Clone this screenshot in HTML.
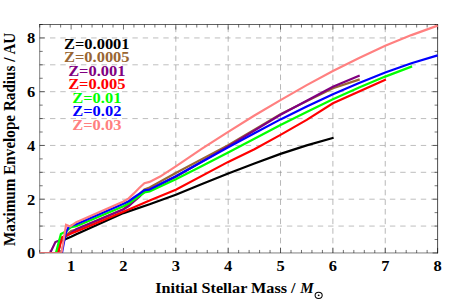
<!DOCTYPE html><html><head><meta charset="utf-8"><style>
html,body{margin:0;padding:0;background:#fff;}svg{display:block}body{font-family:"Liberation Serif",serif}
</style></head><body>
<svg width="463" height="300" viewBox="0 0 463 300">
<rect width="463" height="300" fill="#fff"/>
<path d="M175.82 252.95 V24.5 M228.18 252.95 V24.5 M280.53 252.95 V24.5 M332.89 252.95 V24.5 M385.24 252.95 V24.5" stroke="#a0a0a0" stroke-width="0.75" stroke-dasharray="5.6 4" fill="none"/>
<path d="M39.7 226.07 H437.6 M39.7 199.20 H437.6 M39.7 172.32 H437.6 M39.7 145.44 H437.6 M39.7 118.57 H437.6 M39.7 91.69 H437.6 M39.7 64.81 H437.6 M39.7 37.94 H437.6" stroke="#888" stroke-width="0.55" stroke-dasharray="5.4 4.9" fill="none"/>
<path d="M39.70 252.95 v-3.0 M39.70 24.5 v3.0 M50.17 252.95 v-3.0 M50.17 24.5 v3.0 M60.64 252.95 v-3.0 M60.64 24.5 v3.0 M71.11 252.95 v-5.0 M71.11 24.5 v5.0 M81.58 252.95 v-3.0 M81.58 24.5 v3.0 M92.06 252.95 v-3.0 M92.06 24.5 v3.0 M102.53 252.95 v-3.0 M102.53 24.5 v3.0 M113.00 252.95 v-3.0 M113.00 24.5 v3.0 M123.47 252.95 v-5.0 M123.47 24.5 v5.0 M133.94 252.95 v-3.0 M133.94 24.5 v3.0 M144.41 252.95 v-3.0 M144.41 24.5 v3.0 M154.88 252.95 v-3.0 M154.88 24.5 v3.0 M165.35 252.95 v-3.0 M165.35 24.5 v3.0 M175.82 252.95 v-5.0 M175.82 24.5 v5.0 M186.29 252.95 v-3.0 M186.29 24.5 v3.0 M196.77 252.95 v-3.0 M196.77 24.5 v3.0 M207.24 252.95 v-3.0 M207.24 24.5 v3.0 M217.71 252.95 v-3.0 M217.71 24.5 v3.0 M228.18 252.95 v-5.0 M228.18 24.5 v5.0 M238.65 252.95 v-3.0 M238.65 24.5 v3.0 M249.12 252.95 v-3.0 M249.12 24.5 v3.0 M259.59 252.95 v-3.0 M259.59 24.5 v3.0 M270.06 252.95 v-3.0 M270.06 24.5 v3.0 M280.53 252.95 v-5.0 M280.53 24.5 v5.0 M291.01 252.95 v-3.0 M291.01 24.5 v3.0 M301.48 252.95 v-3.0 M301.48 24.5 v3.0 M311.95 252.95 v-3.0 M311.95 24.5 v3.0 M322.42 252.95 v-3.0 M322.42 24.5 v3.0 M332.89 252.95 v-5.0 M332.89 24.5 v5.0 M343.36 252.95 v-3.0 M343.36 24.5 v3.0 M353.83 252.95 v-3.0 M353.83 24.5 v3.0 M364.30 252.95 v-3.0 M364.30 24.5 v3.0 M374.77 252.95 v-3.0 M374.77 24.5 v3.0 M385.24 252.95 v-5.0 M385.24 24.5 v5.0 M395.72 252.95 v-3.0 M395.72 24.5 v3.0 M406.19 252.95 v-3.0 M406.19 24.5 v3.0 M416.66 252.95 v-3.0 M416.66 24.5 v3.0 M427.13 252.95 v-3.0 M427.13 24.5 v3.0 M437.60 252.95 v-5.0 M437.60 24.5 v5.0" stroke="#000" stroke-width="0.56" fill="none"/>
<path d="M39.7 252.95 h5.0 M437.6 252.95 h-5.0 M39.7 239.51 h3.0 M437.6 239.51 h-3.0 M39.7 226.07 h3.0 M437.6 226.07 h-3.0 M39.7 212.64 h3.0 M437.6 212.64 h-3.0 M39.7 199.20 h5.0 M437.6 199.20 h-5.0 M39.7 185.76 h3.0 M437.6 185.76 h-3.0 M39.7 172.32 h3.0 M437.6 172.32 h-3.0 M39.7 158.88 h3.0 M437.6 158.88 h-3.0 M39.7 145.44 h5.0 M437.6 145.44 h-5.0 M39.7 132.01 h3.0 M437.6 132.01 h-3.0 M39.7 118.57 h3.0 M437.6 118.57 h-3.0 M39.7 105.13 h3.0 M437.6 105.13 h-3.0 M39.7 91.69 h5.0 M437.6 91.69 h-5.0 M39.7 78.25 h3.0 M437.6 78.25 h-3.0 M39.7 64.81 h3.0 M437.6 64.81 h-3.0 M39.7 51.38 h3.0 M437.6 51.38 h-3.0 M39.7 37.94 h5.0 M437.6 37.94 h-5.0 M39.7 24.50 h3.0 M437.6 24.50 h-3.0" stroke="#000" stroke-width="0.55" fill="none"/>
<path d="M39.7 24.1 V253.35" stroke="#000" stroke-width="0.5" fill="none"/>
<path d="M437.6 24.1 V253.35" stroke="#000" stroke-width="0.7" fill="none"/>
<path d="M39.300000000000004 24.5 H438.0" stroke="#000" stroke-width="0.62" fill="none"/>
<path d="M39.300000000000004 252.95 H438.0" stroke="#000" stroke-width="0.27" fill="none"/>
<svg x="39.20" y="23.90" width="399.30" height="229.10" viewBox="39.20 23.90 399.30 229.10" overflow="hidden">
<g fill="none" stroke-width="2.2" stroke-linejoin="miter" stroke-linecap="butt">
<path d="M57.6 254.9 L60.6 241.5 L65.9 239.0 L71.1 236.7 L76.3 234.2 L123.5 213.1 L149.6 204.3 L175.8 194.8 L202.0 184.1 L228.2 173.5 L254.4 163.5 L280.5 153.9 L306.7 145.4 L333.6 137.8" stroke="#000000"/>
<path d="M57.6 254.9 L60.6 240.0 L71.1 231.0 L76.3 229.6 L123.5 209.2 L144.4 189.5 L149.6 187.5 L175.8 173.0 L228.2 145.1 L280.5 114.1 L332.9 88.3 L359.7 79.4" stroke="#996633"/>
<path d="M49.3 254.8 L55.4 242.0 L60.6 239.9 L65.9 236.3 L71.1 233.0 L76.3 229.1 L123.5 209.2 L128.7 206.0 L133.9 201.5 L139.2 197.0 L144.4 191.5 L149.6 189.8 L175.8 176.8 L228.2 146.4 L280.5 114.7 L332.9 86.8 L359.7 75.4" stroke="#800080"/>
<path d="M57.5 254.9 L62.0 237.3 L65.9 235.7 L71.1 233.6 L76.3 231.6 L123.5 211.8 L149.6 200.6 L175.8 189.7 L228.2 161.9 L254.4 149.2 L280.5 134.9 L306.7 119.9 L332.9 103.2 L385.9 79.4" stroke="#ff0000"/>
<path d="M55.4 254.9 L60.9 234.0 L65.9 231.4 L71.1 227.2 L76.3 226.2 L123.5 206.2 L128.7 203.5 L133.9 199.8 L139.2 196.0 L144.4 192.5 L149.6 191.5 L175.8 179.2 L202.0 166.0 L228.2 152.4 L254.4 138.8 L280.5 125.0 L306.7 112.0 L332.9 99.3 L359.1 87.4 L385.2 76.6 L412.1 66.4" stroke="#00ff00"/>
<path d="M61.6 254.9 L65.5 234.0 L66.6 231.0 L68.8 226.8 L71.1 225.8 L76.3 224.2 L123.5 203.7 L128.7 201.2 L133.9 197.5 L139.2 193.8 L144.4 190.2 L149.6 189.5 L175.8 176.2 L202.0 161.8 L228.2 147.4 L254.4 133.2 L280.5 119.4 L306.7 106.6 L332.9 94.2 L359.1 82.9 L385.2 72.5 L411.4 63.3 L437.6 55.4" stroke="#0000ff"/>
<path d="M39.2 253.1 L61.4 253.1 L66.1 224.9 L70.1 226.5 L76.3 222.2 L123.5 201.4 L128.7 198.4 L133.9 193.4 L139.2 188.0 L144.4 183.2 L149.6 181.9 L160.1 176.6 L175.8 166.3 L202.0 148.7 L228.2 131.9 L254.4 115.5 L280.5 100.1 L306.7 85.1 L332.9 71.0 L359.1 57.9 L385.2 45.8 L411.4 35.1 L437.6 25.6" stroke="#ff8080"/>
</g></svg>
<path d="M39.300000000000004 252.95 H438.0" stroke="#000" stroke-width="0.27" fill="none"/>
<g font-family="'Liberation Serif', serif" font-size="14" font-weight="bold" fill="#000" text-anchor="middle">
<text transform="translate(71.11 270.60) scale(1.175 1.0)">1</text>
<text transform="translate(123.47 270.60) scale(1.175 1.0)">2</text>
<text transform="translate(175.82 270.60) scale(1.175 1.0)">3</text>
<text transform="translate(228.18 270.60) scale(1.175 1.0)">4</text>
<text transform="translate(280.53 270.60) scale(1.175 1.0)">5</text>
<text transform="translate(332.89 270.60) scale(1.175 1.0)">6</text>
<text transform="translate(385.24 270.60) scale(1.175 1.0)">7</text>
<text transform="translate(437.60 270.60) scale(1.175 1.0)">8</text>
</g>
<g font-family="'Liberation Serif', serif" font-size="14" font-weight="bold" fill="#000" text-anchor="end">
<text transform="translate(35.30 258.45) scale(1.175 1.0)">0</text>
<text transform="translate(35.30 204.70) scale(1.175 1.0)">2</text>
<text transform="translate(35.30 150.94) scale(1.175 1.0)">4</text>
<text transform="translate(35.30 97.19) scale(1.175 1.0)">6</text>
<text transform="translate(35.30 43.44) scale(1.175 1.0)">8</text>
</g>
<g font-family="'Liberation Serif', serif" font-size="14" font-weight="bold" text-anchor="middle">
<text transform="translate(96.80 48.60) scale(1.175 1.0)" fill="#000000">Z=0.0001</text>
<text transform="translate(96.80 62.10) scale(1.175 1.0)" fill="#996633">Z=0.0005</text>
<text transform="translate(96.80 75.60) scale(1.175 1.0)" fill="#800080">Z=0.001</text>
<text transform="translate(96.80 89.10) scale(1.175 1.0)" fill="#ff0000">Z=0.005</text>
<text transform="translate(96.80 102.60) scale(1.175 1.0)" fill="#00ff00">Z=0.01</text>
<text transform="translate(96.80 116.10) scale(1.175 1.0)" fill="#0000ff">Z=0.02</text>
<text transform="translate(96.80 129.60) scale(1.175 1.0)" fill="#ff8080">Z=0.03</text>
</g>
<text transform="translate(155.20 293.30) scale(1.156 1.0)" font-family="'Liberation Serif', serif" font-size="14" font-weight="bold" fill="#000" xml:space="preserve">Initial Stellar Mass /</text>
<text transform="translate(300.26 293.30) scale(1.07508 1.0)" font-family="'Liberation Serif', serif" font-size="14" font-weight="bold" font-style="italic" fill="#000">M</text>
<ellipse cx="318.65" cy="295.35" rx="3.55" ry="3.15" fill="none" stroke="#000" stroke-width="1.05"/><ellipse cx="318.65" cy="295.35" rx="0.95" ry="0.8" fill="#000"/>
<text transform="translate(15.00 246.00) rotate(-90) scale(1.085 1.12)" font-family="'Liberation Serif', serif" font-size="14" font-weight="bold" fill="#000">Maximum Envelope Radius / AU</text>
</svg></body></html>
